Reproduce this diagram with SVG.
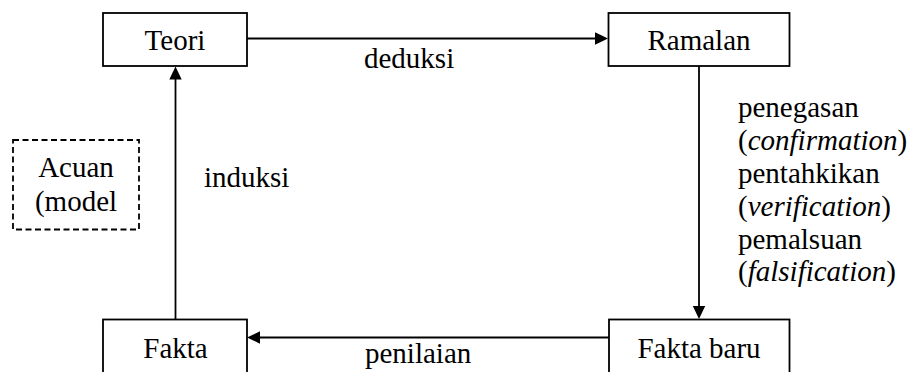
<svg xmlns="http://www.w3.org/2000/svg" width="915" height="372" viewBox="0 0 915 372">
  <rect width="915" height="372" fill="#ffffff"/>

  <!-- connectors: shafts and filled arrowheads -->
  <g id="connectors">
    <g fill="none" stroke="#000000" stroke-width="1.8">
      <line x1="247" y1="38.5" x2="597" y2="38.5"/>
      <line x1="699" y1="66" x2="699" y2="307"/>
      <line x1="609" y1="337.5" x2="258" y2="337.5"/>
      <line x1="175.5" y1="319" x2="175.5" y2="78"/>
    </g>
    <g fill="#000000">
      <polygon points="608,38.5 595,32.3 595,44.7"/>
      <polygon points="699,319 692.8,306 705.2,306"/>
      <polygon points="247,337.5 260,331.3 260,343.7"/>
      <polygon points="175.5,66.5 169.3,79.5 181.7,79.5"/>
    </g>
    <text x="364" y="68" font-family="Liberation Serif" font-size="29">deduksi</text>
    <text x="365" y="363" font-family="Liberation Serif" font-size="29">penilaian</text>
    <text x="204" y="187" font-family="Liberation Serif" font-size="29">induksi</text>
    <text x="738" y="117" font-family="Liberation Serif" font-size="29">penegasan</text>
    <text x="738" y="150" font-family="Liberation Serif" font-size="29">(<tspan font-style="italic">confirmation</tspan>)</text>
    <text x="738" y="183" font-family="Liberation Serif" font-size="29">pentahkikan</text>
    <text x="738" y="216" font-family="Liberation Serif" font-size="29">(<tspan font-style="italic">verification</tspan>)</text>
    <text x="738" y="249" font-family="Liberation Serif" font-size="29">pemalsuan</text>
    <text x="738" y="281" font-family="Liberation Serif" font-size="29">(<tspan font-style="italic">falsification</tspan>)</text>
  </g>

  <g id="teori">
    <rect x="103" y="13" width="144" height="53" fill="#ffffff" stroke="#000000" stroke-width="1.8"/>
    <text x="175" y="50" text-anchor="middle" font-family="Liberation Serif" font-size="29">Teori</text>
  </g>
  <g id="ramalan">
    <rect x="608.5" y="13" width="181" height="53" fill="#ffffff" stroke="#000000" stroke-width="1.8"/>
    <text x="699" y="50" text-anchor="middle" font-family="Liberation Serif" font-size="29">Ramalan</text>
  </g>
  <g id="fakta">
    <rect x="103" y="319.5" width="144" height="60" fill="#ffffff" stroke="#000000" stroke-width="1.8"/>
    <text x="175.5" y="358" text-anchor="middle" font-family="Liberation Serif" font-size="29">Fakta</text>
  </g>
  <g id="fakta-baru">
    <rect x="609" y="319.5" width="180.5" height="60" fill="#ffffff" stroke="#000000" stroke-width="1.8"/>
    <text x="699" y="358" text-anchor="middle" font-family="Liberation Serif" font-size="29">Fakta baru</text>
  </g>
  <g id="acuan">
    <rect x="13" y="140" width="126" height="89.5" fill="none" stroke="#000000" stroke-width="1.8" stroke-dasharray="6 3.5"/>
    <text x="76" y="177" text-anchor="middle" font-family="Liberation Serif" font-size="29">Acuan</text>
    <text x="76" y="211" text-anchor="middle" font-family="Liberation Serif" font-size="29">(model</text>
  </g>
</svg>
